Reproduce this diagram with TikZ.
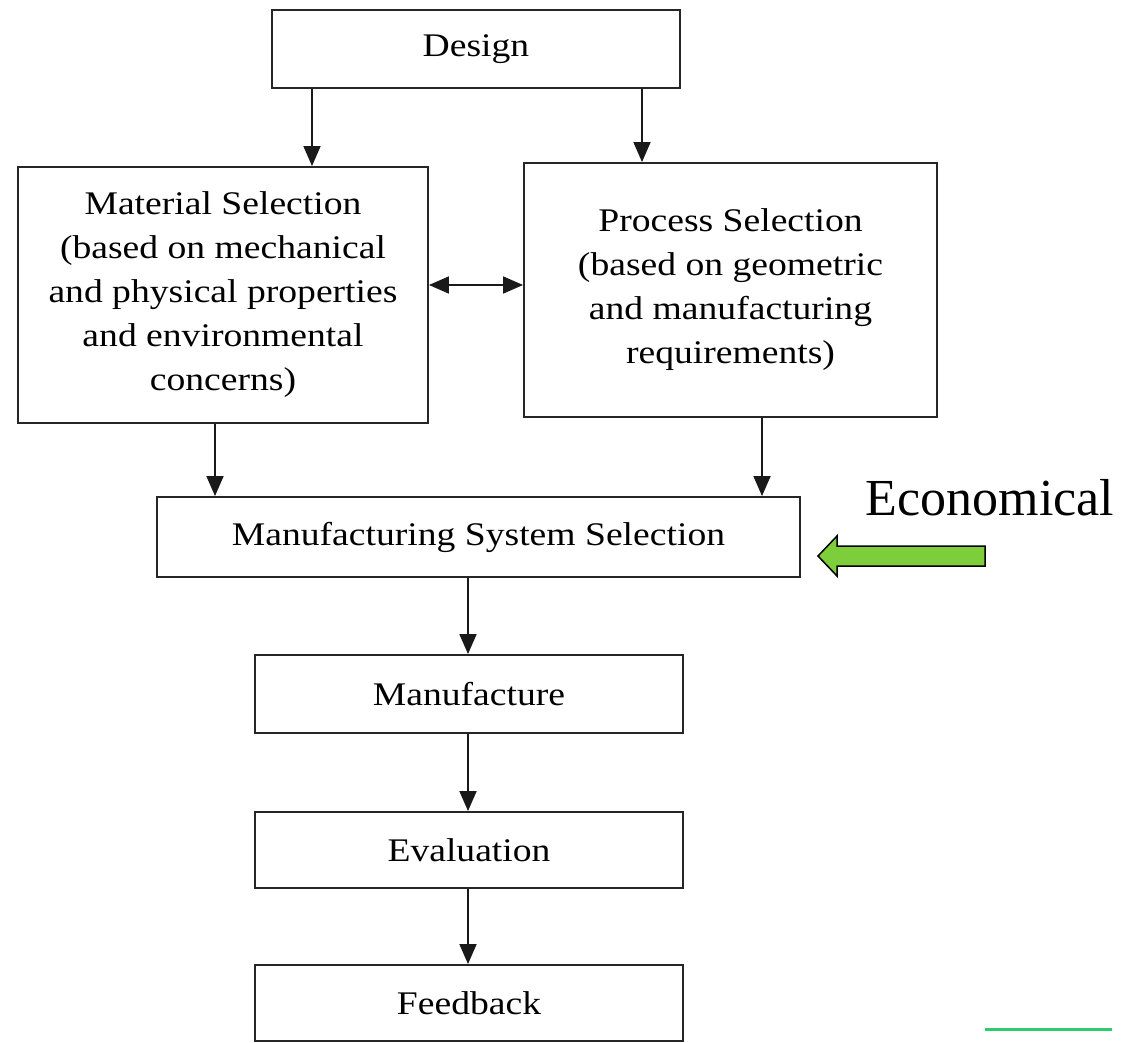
\documentclass[tikz,border=0pt]{standalone}
\usepackage{fontspec}
\setmainfont[FakeStretch=1.14]{Liberation Serif}
\newfontfamily\plainserif{Liberation Serif}
\usetikzlibrary{arrows.meta}
\definecolor{arrowgreen}{RGB}{126,206,60}
\definecolor{linegreen}{RGB}{46,204,113}
\begin{document}
\begin{tikzpicture}[x=1pt,y=-1pt,
  box/.style={draw=black!85, line width=1.9pt, inner sep=0pt, align=center,
    font=\fontsize{33}{44}\selectfont, text=black},
  arr/.style={draw=black!90, line width=1.8pt, -{Triangle[length=20pt,width=17pt]}},
  darr/.style={draw=black!90, line width=1.8pt, {Triangle[length=20pt,width=17pt]}-{Triangle[length=20pt,width=17pt]}},
  econ/.style={font=\plainserif\fontsize{52}{60}\selectfont, inner sep=0pt, anchor=base},
  greenarrow/.style={fill=arrowgreen, draw=black, line width=1.5pt, line join=miter},
  greenline/.style={draw=linegreen, line width=3pt}
]
\useasboundingbox (0,0) rectangle (1133,1043);

\node[box, minimum width=408pt, minimum height=78pt] (design) at (476,49) {Design};
\node[box, minimum width=410pt, minimum height=256pt] (mat) at (223,295)
  {Material Selection\\(based on mechanical\\and physical properties\\and environmental\\concerns)};
\node[box, minimum width=413pt, minimum height=254pt] (proc) at (730.5,290)
  {Process Selection\\(based on geometric\\and manufacturing\\requirements)};
\node[box, minimum width=643pt, minimum height=80pt] (mss) at (478.5,537) {Manufacturing System Selection};
\node[box, minimum width=428pt, minimum height=78pt] (manu) at (469,694) {Manufacture};
\node[box, minimum width=428pt, minimum height=76pt] (eval) at (469,850) {Evaluation};
\node[box, minimum width=428pt, minimum height=76pt] (feed) at (469,1003) {Feedback};

\node[econ] (econ) at (990,515) {Economical};

\draw[arr] (design.south -| 312,0) -- (mat.north -| 312,0);
\draw[arr] (design.south -| 642,0) -- (proc.north -| 642,0);
\draw[darr] (mat.east |- 0,285) -- (proc.west |- 0,285);
\draw[arr] (mat.south -| 215,0) -- (mss.north -| 215,0);
\draw[arr] (proc.south -| 762,0) -- (mss.north -| 762,0);
\draw[arr] (mss.south -| 468,0) -- (manu.north -| 468,0);
\draw[arr] (manu.south -| 468,0) -- (eval.north -| 468,0);
\draw[arr] (eval.south -| 468,0) -- (feed.north -| 468,0);

\draw[greenarrow] (818,556) -- (837,536) -- (837,546) -- (985,546) -- (985,566)
  -- (837,566) -- (837,576) -- cycle;

\coordinate (gl1) at (985,1029);
\coordinate (gl2) at (1112,1029);
\draw[greenline] (gl1) -- (gl2);
\end{tikzpicture}
\end{document}
